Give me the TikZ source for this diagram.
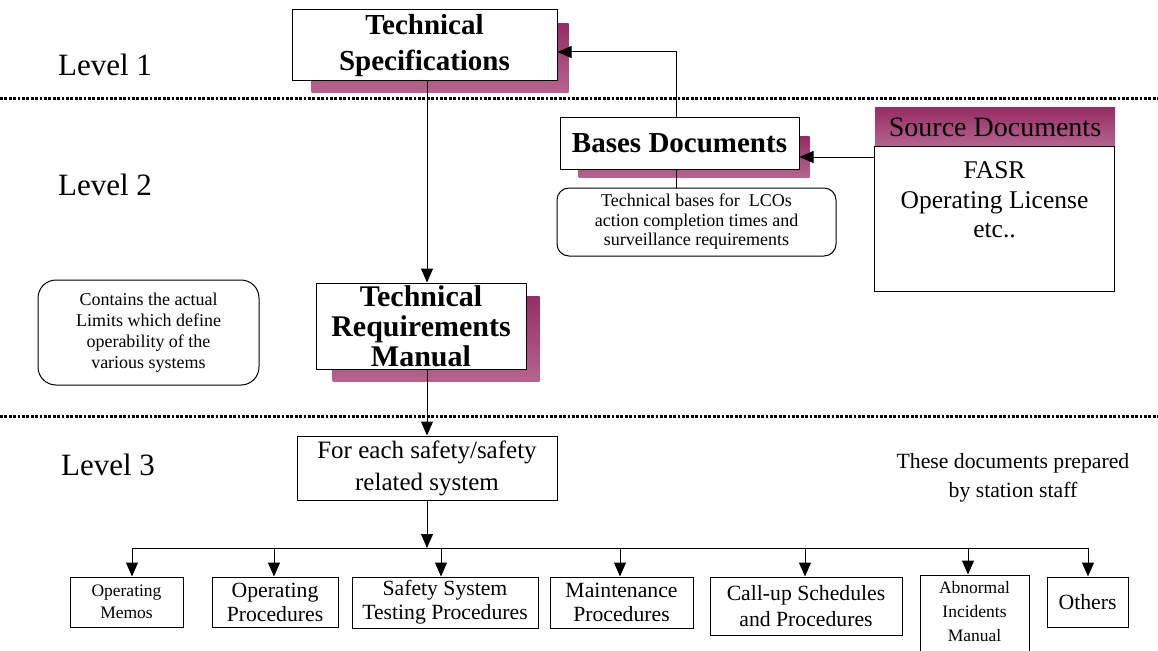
\documentclass[tikz,border=0pt]{standalone}
\usepackage{fontspec}
\setmainfont{Liberation Serif}
\usetikzlibrary{arrows.meta}
\definecolor{shtop}{RGB}{150,45,100}
\definecolor{shbot}{RGB}{182,100,142}

\begin{document}
\begin{tikzpicture}[x=1pt,y=-1pt,
  box/.style={draw=black, line width=1pt, fill=white, inner sep=0pt, align=center},
  rbox/.style={box, rounded corners=14pt},
  conn/.style={line width=1pt},
  arr/.style={conn, -{Triangle[length=14pt,width=12pt]}},
  level/.style={inner sep=0pt, font=\fontsize{31}{36}\selectfont},
  sep/.style={line width=3pt, dash pattern=on 2.8pt off 1.6pt},
  shadow/.style={top color=shtop, bottom color=shbot},
  bold29/.style={font=\fontsize{29}{36}\selectfont\bfseries},
  txt/.style={font=\fontsize{21.7}{24}\selectfont},
  small/.style={font=\fontsize{17.5}{22}\selectfont},
]
\useasboundingbox (0,0) rectangle (1158,650);
\clip (0,0) rectangle (1158,650);
\fill[white] (0,0) rectangle (1158,650);

% level separators
\draw[sep] (0,99) -- (1158,99);
\draw[sep] (0,416) -- (1158,416);

% level labels
\node[level] (lev1) at (105,65) {Level 1};
\node[level] (lev2) at (105,185) {Level 2};
\node[level] (lev3) at (108,465) {Level 3};

% Level 1: Technical Specifications
\node[box, bold29, minimum width=265pt, minimum height=71pt] (ts) at (424.5,45.5) {};
\shade[shadow] ([xshift=20pt,yshift=-14pt]ts.north west) rectangle ([xshift=11pt,yshift=-11pt]ts.south east);
\node[box, bold29, minimum width=265pt, minimum height=71pt] (ts) at (424.5,45.5) {Technical\\Specifications};

% Level 2: Bases Documents
\node[box, minimum width=239pt, minimum height=51pt] (bases) at (679.5,143.5) {};
\shade[shadow] ([xshift=19pt,yshift=-19pt]bases.north west) rectangle ([xshift=10pt,yshift=-8pt]bases.south east);
\node[box, bold29, minimum width=239pt, minimum height=51pt] (bases) at (679.5,143.5) {Bases Documents};

\node[rbox, rounded corners=12pt, minimum width=279pt, minimum height=68pt,
      font=\fontsize{18}{19.5}\selectfont] (tb) at (696.5,222)
  {Technical bases for~ LCOs\\action completion times and\\surveillance requirements};

% Source documents
\node[shadow, inner sep=0pt, minimum width=240pt, minimum height=38pt,
      font=\fontsize{28}{32}\selectfont] (srchead) at (995,127) {Source Documents};
\node[box, minimum width=239.5pt, minimum height=145pt] (srcbody) at (994.5,218.5) {};
\node[inner sep=0pt, anchor=north, align=center, font=\fontsize{25.5}{29.5}\selectfont]
  (srctext) at ([yshift=-16pt]srcbody.north) {FASR\\Operating License\\etc..};

% Technical Requirements Manual
\node[box, minimum width=210pt, minimum height=86pt] (trm) at (421,326) {};
\shade[shadow] ([xshift=17pt,yshift=-14pt]trm.north west) rectangle ([xshift=13pt,yshift=-12pt]trm.south east);
\node[box, font=\fontsize{30}{30}\selectfont\bfseries, minimum width=210pt, minimum height=86pt] (trm) at (421,326)
  {Technical\\Requirements\\Manual};

\node[rbox, rounded corners=18pt, minimum width=221pt, minimum height=105pt,
      font=\fontsize{18}{21}\selectfont] (limits) at (148.5,332.5)
  {Contains the actual\\Limits which define\\operability of the\\various systems};

% Level 3
\node[box, minimum width=260pt, minimum height=64pt,
      font=\fontsize{25}{32}\selectfont] (fes) at (427,468) {For each safety/safety\\related system};

\node[inner sep=0pt, align=center, font=\fontsize{21.7}{29.5}\selectfont] (staff) at (1013,478)
  {These documents prepared\\by station staff};

\node[box, small, minimum width=113pt, minimum height=50pt] (memos) at (126.5,602) {Operating\\Memos};
\node[box, txt, minimum width=126pt, minimum height=50pt] (opproc) at (275,602) {Operating\\Procedures};
\node[box, txt, minimum width=186pt, minimum height=51pt] (sstp) at (445,602.5) {Safety System\\Testing Procedures};
\node[box, txt, minimum width=143pt, minimum height=51pt] (maint) at (621.5,602.5) {Maintenance\\Procedures};
\node[box, txt, font=\fontsize{21.7}{26}\selectfont, minimum width=192pt, minimum height=58pt] (callup) at (806,606) {Call-up Schedules\\and Procedures};
\node[box, minimum width=109pt, minimum height=86pt] (aim) at (974.5,618) {};
\node[inner sep=0pt, anchor=north, align=center, font=\fontsize{17.5}{24}\selectfont]
  (aimtext) at ([yshift=-7pt]aim.north) {Abnormal\\Incidents\\Manual};
\node[box, txt, minimum width=81pt, minimum height=50pt] (others) at (1087.5,602) {Others};

% connectors
\coordinate (tsv) at ([xshift=2.5pt]ts.south);
\draw[arr] (tsv) -- (tsv |- trm.north);
\coordinate (bup) at ([xshift=-3.5pt]bases.north);
\draw[arr] (bup) |- ([yshift=-6.5pt]ts.east);
\coordinate (bdn) at ([xshift=-3.5pt]bases.south);
\draw[conn] (bdn) -- (bdn |- tb.north);
\coordinate (bin) at ([yshift=-13.5pt]bases.east);
\draw[arr] (bin -| srcbody.west) -- (bin);
\draw[arr] (fes.north |- trm.south) -- (fes.north);

\coordinate (busL) at (132,548);
\coordinate (busR) at (1088,548);
\draw[arr] (fes.south) -- (fes.south |- busL);
\draw[conn] (busL) -- (busR);
\coordinate (b1) at (132,548);
\coordinate (b2) at (274,548);
\coordinate (b3) at (441,548);
\coordinate (b4) at (620,548);
\coordinate (b5) at (805,548);
\coordinate (b6) at (968,548);
\coordinate (b7) at (1088,548);
\draw[arr] (b1) -- (b1 |- memos.north);
\draw[arr] (b2) -- (b2 |- opproc.north);
\draw[arr] (b3) -- (b3 |- sstp.north);
\draw[arr] (b4) -- (b4 |- maint.north);
\draw[arr] (b5) -- (b5 |- callup.north);
\draw[arr] (b6) -- (b6 |- aim.north);
\draw[arr] (b7) -- (b7 |- others.north);
\end{tikzpicture}
\end{document}
